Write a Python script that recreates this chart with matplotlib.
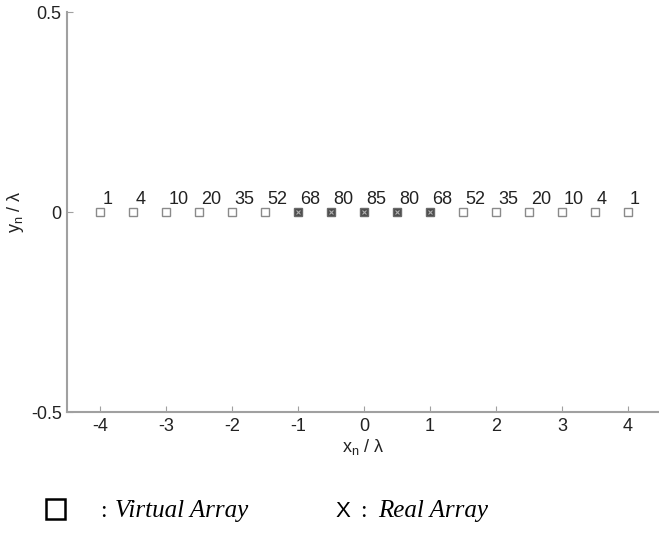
import numpy as np
import matplotlib.pyplot as plt
from matplotlib.patches import Rectangle

plt.rcParams['font.family'] = ['Liberation Sans', 'DejaVu Sans']
plt.rcParams['axes.unicode_minus'] = False

# element positions (in wavelengths) and their weights
x_pos = [-4, -3.5, -3, -2.5, -2, -1.5, -1, -0.5, 0, 0.5, 1, 1.5, 2, 2.5, 3, 3.5, 4]
weights = [1, 4, 10, 20, 35, 52, 68, 80, 85, 80, 68, 52, 35, 20, 10, 4, 1]
real_pos = [-1, -0.5, 0, 0.5, 1]

x = np.array(x_pos)
y = np.zeros_like(x, dtype=float)
virt = ~np.isin(x, real_pos)
real = np.isin(x, real_pos)

fig = plt.figure(figsize=(6.59, 5.33), dpi=100)
ax = fig.add_axes([0.102, 0.227, 0.898, 0.75])

ax.plot(x[virt], y[virt], 's', ms=5.5, mfc='white', mec='#8a8a8a', mew=1.0)
ax.plot(x[real], y[real], 's', ms=5.5, mfc='#4a4a4a', mec='#6a6a6a', mew=1.0)
ax.plot(x[real], y[real], 'x', ms=3.5, mec='#b0b0b0', mew=0.8)

for xi, w in zip(x_pos, weights):
    ax.annotate(str(w), (xi, 0), xytext=(1.5, 3), textcoords='offset points',
                fontsize=13, color='#222222', ha='left', va='bottom')

ax.set_xlim(-4.5, 4.47)
ax.set_ylim(-0.5, 0.5)
ax.set_xticks(np.arange(-4, 5, 1))
ax.set_yticks([-0.5, 0, 0.5])
ax.set_yticklabels(['-0.5', '0', '0.5'])

for s in ['top', 'right']:
    ax.spines[s].set_visible(False)
for s in ['left', 'bottom']:
    ax.spines[s].set_color('#a0a0a0')
    ax.spines[s].set_linewidth(1.5)
ax.tick_params(direction='in', length=4, color='#a0a0a0', labelsize=13,
               labelcolor='#222222', pad=4)

ax.set_xlabel('x$_\\mathregular{n}$ / \u03bb', fontsize=13, color='#222222', labelpad=2)
ax.set_ylabel('y$_\\mathregular{n}$ / \u03bb', fontsize=13, color='#222222')
ax.yaxis.set_label_coords(-0.07, 0.5)

# legend line under the plot
fig.patches.append(Rectangle((46 / 659, 14 / 533), 19 / 659, 20 / 533,
                             transform=fig.transFigure, fill=False,
                             edgecolor='black', linewidth=1.8))
fig.text(100 / 659, 0.030, ':', fontsize=17, color='black', family='Liberation Serif', va='baseline')
fig.text(115 / 659, 0.030, 'Virtual Array', fontsize=18, color='black', family='Liberation Serif',
         style='italic', va='baseline')
fig.text(336 / 659, 0.030, 'X', fontsize=16, color='black', va='baseline')
fig.text(360 / 659, 0.030, ':', fontsize=17, color='black', family='Liberation Serif', va='baseline')
fig.text(378 / 659, 0.030, 'Real Array', fontsize=18, color='black', family='Liberation Serif',
         style='italic', va='baseline')

fig.savefig('out.png', dpi=100)
